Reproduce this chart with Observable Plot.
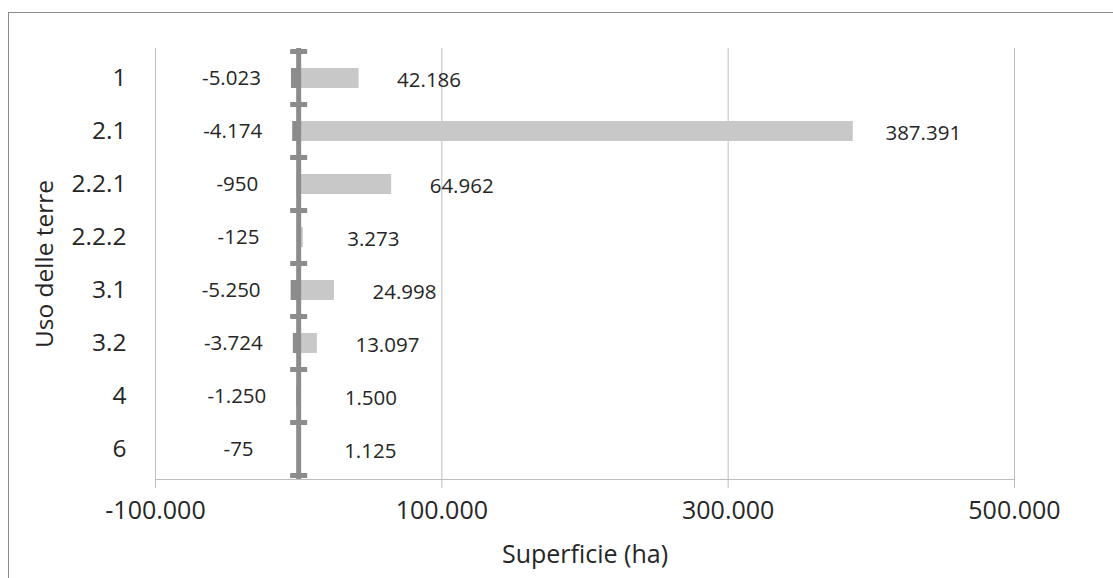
<!DOCTYPE html>
<html>
<head>
<meta charset="utf-8">
<script src="https://cdn.jsdelivr.net/npm/d3@7"></script>
<script src="https://cdn.jsdelivr.net/npm/@observablehq/plot@0.6"></script>
<style>
  html, body { margin: 0; padding: 0; background: #fff; overflow: hidden; }
  #chart { position: relative; width: 1113px; height: 578px; }
  #border { position: absolute; left: 8px; top: 12px; width: 1200px; height: 700px;
            border: 1px solid #8c8c8c; box-sizing: border-box; }
  #chart svg { position: absolute; left: 0; top: 0; }
</style>
</head>
<body>
<div id="chart"><div id="border"></div></div>
<script>
// Land-use classes and area changes (ha)
const categories = ["1", "2.1", "2.2.1", "2.2.2", "3.1", "3.2", "4", "6"];
const decreases  = [-5023, -4174, -950, -125, -5250, -3724, -1250, -75];
const increases  = [42186, 387391, 64962, 3273, 24998, 13097, 1500, 1125];
const xTicks     = [-100000, 100000, 300000, 500000];

// Italian number format: "." as thousands separator, plain hyphen for minus
const itLocale = d3.formatLocale({decimal: ",", thousands: ".", grouping: [3], currency: ["€", ""], minus: "-"});
const fmt = itLocale.format(",d");

const negRows = categories.map((c, i) => ({cat: c, value: decreases[i]}));
const posRows = categories.map((c, i) => ({cat: c, value: increases[i]}));

const axisGray = "#8c8c8c";
const gridGray = "#bdbdbd";
const textColor = "#262626";

// Short caps on the zero axis at every category boundary
function zeroAxisCaps(index, scales) {
  const x = scales.x, y = scales.y;
  const step = y.step(), bw = y.bandwidth();
  const edges = y.domain().map(c => y(c) + bw / 2 - step / 2);
  edges.push(edges[edges.length - 1] + step);
  const g = d3.create("svg:g");
  g.selectAll("line").data(edges).join("line")
    .attr("x1", x(0) - 8).attr("x2", x(0) + 9)
    .attr("y1", d => d).attr("y2", d => d)
    .attr("stroke", axisGray).attr("stroke-width", 5);
  return g.node();
}

const chart = Plot.plot({
  width: 1113,
  height: 578,
  marginLeft: 155,
  marginRight: 99,
  marginTop: 48,
  marginBottom: 99,
  style: {fontFamily: "'Open Sans', sans-serif", background: "transparent", color: textColor},
  x: {domain: [-100000, 500000]},
  y: {domain: categories, paddingInner: 0.62, paddingOuter: 0.31},
  marks: [
    Plot.gridX(xTicks, {stroke: gridGray, strokeOpacity: 1}),
    Plot.frame({anchor: "bottom", stroke: gridGray}),
    Plot.barX(negRows, {x: "value", y: "cat", fill: axisGray}),
    Plot.barX(posRows, {x: "value", y: "cat", fill: "#c8c8c8"}),
    Plot.ruleX([0], {stroke: axisGray, strokeWidth: 5}),
    zeroAxisCaps,
    Plot.text(negRows, {x: "value", y: "cat", text: d => fmt(d.value), textAnchor: "middle",
      dx: -60, dy: 0, fontSize: 20.5, fill: textColor}),
    Plot.text(posRows, {x: "value", y: "cat", text: d => fmt(d.value), textAnchor: "middle",
      dx: 70, dy: 2, fontSize: 20.5, fill: textColor}),
    Plot.axisX(xTicks, {tickFormat: fmt, tickSize: 9, tickPadding: 13, fontSize: 25,
      stroke: gridGray, label: "Superficie (ha)", labelArrow: "none", labelAnchor: "center", labelOffset: 83}),
    Plot.axisY({tickSize: 0, tickPadding: 29, fontSize: 24.5,
      label: "Uso delle terre", labelArrow: "none", labelAnchor: "center", labelOffset: 120})
  ]
});

document.getElementById("chart").appendChild(chart);
</script>
</body>
</html>
